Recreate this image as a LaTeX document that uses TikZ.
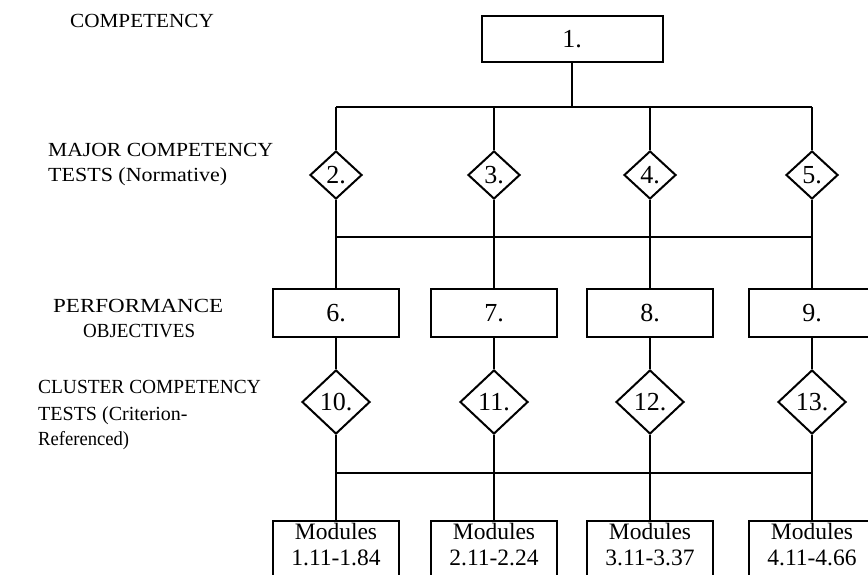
\documentclass[tikz,border=0pt]{standalone}
\usepackage{fontspec}
\setmainfont{Liberation Serif}
\usetikzlibrary{shapes.geometric}
\begin{document}
\begin{tikzpicture}[x=1pt,y=-1pt,
  conn/.style={line width=2pt},
  numbox/.style={draw, line width=2pt, minimum width=126pt, minimum height=48pt, inner sep=0pt, font=\fontsize{26}{30}\selectfont},
  topbox/.style={numbox, minimum width=181pt, minimum height=46pt},
  testdia/.style={draw, diamond, line width=2pt, inner sep=0pt, font=\fontsize{26}{30}\selectfont},
  majordia/.style={testdia, minimum width=52pt, minimum height=48pt},
  clusterdia/.style={testdia, minimum width=68pt, minimum height=64pt},
  modbox/.style={draw, line width=2pt, minimum width=126pt, align=center, anchor=north, inner ysep=0pt, text height=44pt, text depth=20pt, font=\fontsize{23.5}{25.5}\selectfont},
  lab/.style={anchor=base west, inner sep=0pt, font=\fontsize{20}{25}\selectfont}
]
\useasboundingbox (0,0) rectangle (868,575);

% row labels
\node[lab] (l1) at (70,28) {\scalebox{1.06}[1]{COMPETENCY}};
\node[lab] (l2a) at (48,157) {\scalebox{1.08}[1]{MAJOR COMPETENCY}};
\node[lab] (l2b) at (48,182) {\scalebox{1.1}[1]{TESTS (Normative)}};
\node[lab] (l3a) at (53,312) {\scalebox{1.15}[1]{PERFORMANCE}};
\node[lab] (l3b) at (83,337) {\scalebox{0.95}[1]{OBJECTIVES}};
\node[lab] (l4a) at (38,393) {\scalebox{0.97}[1]{CLUSTER COMPETENCY}};
\node[lab] (l4b) at (38,420) {TESTS (Criterion-};
\node[lab] (l4c) at (38,445) {\scalebox{0.93}[1]{Referenced)}};

% nodes
\node[topbox] (n1) at (572,39) {1.};
\node[majordia] (n2) at (336,175) {2.};
\node[majordia] (n3) at (494,175) {3.};
\node[majordia] (n4) at (650,175) {4.};
\node[majordia] (n5) at (812,175) {5.};
\node[numbox] (n6) at (336,313) {6.};
\node[numbox] (n7) at (494,313) {7.};
\node[numbox] (n8) at (650,313) {8.};
\node[numbox] (n9) at (812,313) {9.};
\node[clusterdia] (n10) at (336,402) {10.};
\node[clusterdia] (n11) at (494,402) {11.};
\node[clusterdia] (n12) at (650,402) {12.};
\node[clusterdia] (n13) at (812,402) {13.};
\node[modbox] (m1) at (336,520) {Modules\\1.11-1.84};
\node[modbox] (m2) at (494,520) {Modules\\2.11-2.24};
\node[modbox] (m3) at (650,520) {Modules\\3.11-3.37};
\node[modbox] (m4) at (812,520) {Modules\\4.11-4.66};

% bars
\coordinate (ta) at (336,107); \coordinate (tb) at (812,107);
\coordinate (ma) at (336,237); \coordinate (mb) at (812,237);
\coordinate (ba) at (336,473); \coordinate (bb) at (812,473);

\draw[conn] (n1.south) -- (n1.south |- ta);
\draw[conn] (ta) -- (tb);
\draw[conn] (ma) -- (mb);
\draw[conn] (ba) -- (bb);
\foreach \a/\b/\c/\d in {2/6/10/1, 3/7/11/2, 4/8/12/3, 5/9/13/4} {
  \draw[conn] (n\a.north |- ta) -- (n\a.north);
  \draw[conn] (n\a.south) -- (n\b.north);
  \draw[conn] (n\b.south) -- (n\c.north);
  \draw[conn] (n\c.south) -- (m\d.north);
}
\end{tikzpicture}
\end{document}
